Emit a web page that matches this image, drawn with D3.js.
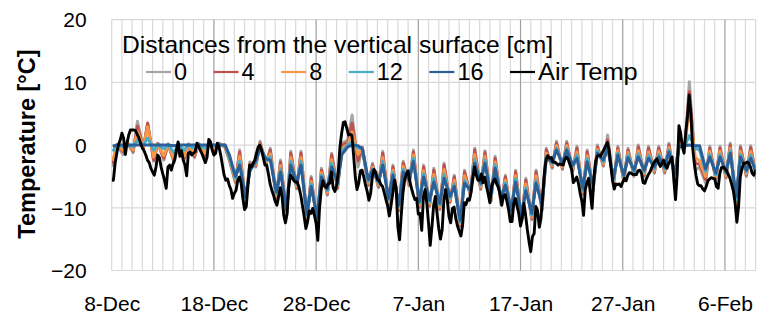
<!DOCTYPE html>
<html>
<head>
<meta charset="utf-8">
<script src="https://cdn.jsdelivr.net/npm/d3@7"></script>
<style>
  html, body { margin: 0; padding: 0; background: #fff; }
  svg { display: block; font-family: "Liberation Sans", Arial, sans-serif; }
</style>
</head>
<body>
<svg id="chart" width="759" height="324"></svg>
<script>
// ---- data -------------------------------------------------------------
// Period: 8 Dec - 9 Feb (63 days). Day index 0 = 8 Dec 00:00.
const dayCount = 63;
const xTickDays = [0, 10, 20, 30, 40, 50, 60];
const xTickLabels = ["8-Dec", "18-Dec", "28-Dec", "7-Jan", "17-Jan", "27-Jan", "6-Feb"];
const yTicks = [20, 10, 0, -10, -20];

const legendTitle = "Distances from the vertical surface [cm]";
const seriesNames = ["0", "4", "8", "12", "16", "Air Temp"];
const seriesColors = ["#a5a5a5", "#c0504d", "#f79646", "#4bacc6", "#2a5f98", "#000000"];

// Sensor readings: per day a night minimum (~02:00) then a daytime maximum (~12:30),
// followed by one closing minimum.
const depth0 = [
  -3.5,0, -1.5,0.5, -1.2,3.8, -0.5,3.4, -2.6,0.3, -2.4,0.2, -2.8,0.3, -2.4,0.2, -2.0,0.3, -1.8,0.2,
  -1.0,0.3, -0.4,-2.5, -6.0,-0.8, -9.3,-2.7, -3.5,0.6, -3.2,-0.5, -8.5,-2.4, -11.3,-1.0, -7.0,-1.0, -12.0,-5.0,
  -12.5,-3.7, -8.0,-1.3, -7.0,0.3, 0.8,4.8, -3.5,-0.3, -6.5,-2.9, -6.8,-1.0, -9.5,-3.2, -10.5,-2.6, -6.5,-0.8,
  -10.0,-3.2, -9.8,-3.7, -10.3,-2.9, -9.2,-4.8, -13.0,-4.0, -8.2,-0.5, -7.1,-0.9, -9.0,-1.8, -9.5,-4.8, -11.4,-4.0,
  -12.2,-5.3, -11.9,-4.0, -10.5,-0.5, -3.7,0.6, -3.9,0.6, -4.2,-0.2, -7.9,-0.8, -7.4,0.0, -3.4,1.6, -6.3,-0.2,
  -5.8,-0.5, -5.0,0.0, -5.0,-0.2, -4.5,-0.2, -4.5,0.3, -5.5,0.8, 0.0,10.1, -4.0,-3.5, -6.0,-0.2, -5.5,-0.2,
  -5.3,0.3, -10.5,-0.1, -5.0,-0.1, -5.5
];
const depth4 = [
  -3.0,0, -1.0,0.3, -1.0,3.0, -0.5,3.5, -2.4,0.2, -2.1,0, -2.5,0.2, -2.1,0, -1.8,0.1, -1.6,0,
  -0.8,0.2, -0.3,-2.3, -5.8,-1.1, -9.1,-3.0, -3.3,0.3, -3.0,-0.8, -8.3,-2.7, -11.1,-1.3, -6.8,-1.3, -11.8,-5.3,
  -12.3,-4.0, -7.8,-1.6, -6.8,0, 0.4,3.5, -2.5,-0.4, -6.3,-3.2, -6.6,-1.3, -9.3,-3.5, -10.3,-2.9, -6.3,-1.1,
  -9.8,-3.5, -9.6,-4.0, -10.1,-3.2, -9.0,-5.1, -12.8,-4.3, -8.0,-0.8, -6.9,-1.2, -8.8,-2.1, -9.3,-5.1, -11.2,-4.3,
  -12.0,-5.6, -11.7,-4.3, -10.3,-0.8, -3.5,0.3, -3.7,0.3, -4.0,-0.5, -7.7,-1.1, -7.2,-0.3, -3.2,0.8, -6.1,-0.5,
  -5.6,-0.8, -4.8,-0.3, -4.8,-0.5, -4.3,-0.5, -4.3,0, -5.3,0.5, 0,8.5, -3.0,-3.0, -5.5,-0.5, -5.3,-0.5,
  -5.1,0, -10.0,-0.4, -4.8,-0.4, -5.3
];
const depth8 = [
  -2.5,0, -0.8,0.2, -0.8,2.2, -0.3,2.9, -1.9,0, -1.7,0, -2.2,0, -1.8,0, -1.5,0, -1.3,0,
  -0.5,0, -0.2,-2.2, -5.6,-1.8, -8.9,-3.4, -3.1,0.1, -2.8,-1.4, -8.1,-3.3, -10.9,-2.0, -6.6,-2.0, -11.6,-5.8,
  -12.1,-4.4, -7.6,-2.3, -6.6,-0.5, 0.1,2.1, -1.5,-0.5, -6.1,-3.5, -6.4,-2.0, -9.1,-4.0, -10.1,-3.4, -6.1,-1.6,
  -9.6,-4.1, -9.4,-4.7, -9.9,-3.9, -8.8,-5.6, -12.6,-4.9, -7.8,-1.5, -6.7,-1.8, -8.6,-2.7, -9.1,-5.6, -11.0,-4.9,
  -11.8,-6.2, -11.5,-4.9, -10.1,-1.3, -3.3,-0.1, -3.5,-0.1, -3.8,-1.1, -7.5,-1.7, -7.0,-0.7, -3.0,0.3, -5.9,-0.9,
  -5.4,-1.2, -4.6,-0.9, -4.6,-1.1, -4.1,-1.0, -4.1,-0.4, -5.1,0.2, 0,6.1, -2.0,-2.5, -5.0,-1.0, -5.1,-1.0,
  -4.9,-0.5, -9.6,-1.0, -4.6,-1.0, -5.1
];
const depth12 = [
  -1.0,0, -0.3,0, -0.3,0.8, 0,1.1, -0.8,0, -0.6,0, -1.2,0, -0.8,0, -0.6,0, -0.5,0,
  -0.2,0, 0,-2.0, -5.3,-2.6, -8.6,-3.8, -2.8,-0.2, -2.5,-1.9, -7.8,-3.8, -10.6,-2.6, -6.3,-2.6, -11.3,-6.2,
  -11.8,-4.8, -7.3,-2.9, -6.3,-1.0, 0,0.5, -0.5,-0.5, -5.8,-3.8, -6.1,-2.6, -8.8,-4.4, -9.8,-3.9, -5.8,-2.1,
  -9.3,-4.6, -9.1,-5.3, -9.6,-4.7, -8.5,-6.2, -12.3,-5.6, -7.5,-2.3, -6.4,-2.4, -8.3,-3.2, -8.8,-6.0, -10.7,-5.4,
  -11.5,-6.8, -11.2,-5.6, -9.8,-1.7, -3.0,-0.5, -3.2,-0.5, -3.5,-1.6, -7.2,-2.2, -6.7,-1.0, -2.7,-0.1, -5.6,-1.3,
  -5.1,-1.6, -4.3,-1.4, -4.3,-1.6, -3.8,-1.5, -3.8,-0.8, -4.8,-0.1, 0,1.5, -0.5,-0.8, -4.2,-1.5, -4.8,-1.5,
  -4.6,-0.9, -8.8,-1.5, -4.3,-1.6, -4.8
];
const depth16 = [
  -0.2,0, 0,0, 0,0, 0,0, 0,0, 0,0, -0.1,0, 0,0, 0,0, 0,0,
  0,0, 0,-1.6, -5.0,-3.2, -8.3,-4.2, -2.5,-0.4, -2.2,-2.4, -7.5,-4.3, -10.3,-3.2, -6.0,-3.2, -11.0,-6.6,
  -11.5,-5.1, -7.0,-3.5, -6.0,-1.5, -0.3,0, -0.1,-0.6, -5.5,-4.0, -5.8,-3.2, -8.5,-4.8, -9.5,-4.3, -5.5,-2.6,
  -9.0,-5.1, -8.8,-5.9, -9.3,-5.3, -8.2,-6.6, -12.0,-6.1, -7.2,-2.9, -6.1,-2.9, -8.0,-3.7, -8.5,-6.4, -10.4,-5.9,
  -11.2,-7.3, -10.9,-6.1, -9.5,-2.1, -2.7,-0.8, -2.9,-0.8, -3.2,-2.1, -6.9,-2.7, -6.4,-1.3, -2.4,-0.5, -5.3,-1.6,
  -4.8,-2.0, -4.0,-1.9, -4.0,-2.1, -3.5,-1.9, -3.5,-1.1, -4.5,-0.3, -0.1,0, -0.1,-0.1, -3.8,-1.9, -4.5,-1.9,
  -4.3,-1.3, -8.2,-1.9, -4.0,-2.1, -4.5
];

// Air temperature every 4 hours (6 readings per day)
const airTemp = [
  -5.6,-5.6,-2.9,-1.3,0.1,0.8,  1.9,1.1,-1.5,0.3,1.6,2.4,  2.4,2.4,2.3,1.7,1.1,0.3,
  -0.5,-0.9,-1.6,-2.4,-2.8,-3.7,  -4.3,-4.8,-3.5,-1.6,-2.0,-3.5,  -4.6,-5.6,-6.9,-3.5,-3.2,-4.0,
  -3.0,-2.3,-0.8,0.5,-1.8,-0.9,  -2.4,-3.2,-4.9,-1.3,-1.1,-1.6,  -1.3,-1.1,0.3,-0.2,-0.8,-1.4,
  -2.1,-2.8,-1.9,0.9,0.5,-0.8,
  -1.6,-1.3,0.3,-0.3,-1.6,-3.2,  -4.8,-5.6,-5.4,-6.4,-7.1,-8.5,  -7.7,-7.2,-5.6,-5.1,-6.1,-8.5,
  -10.3,-9.8,-6.4,-3.2,-3.5,-2.9,  -2.4,-1.3,-0.3,0,-0.9,-2.0,  -3.2,-3.2,-4.6,-6.2,-7.2,-8.0,
  -9.0,-9.6,-8.2,-6.8,-8.2,-11.2,  -12.4,-10.9,-6.4,-4.8,-5.2,-5.7,  -5.9,-5.9,-6.8,-8.0,-9.7,-11.4,
  -13.3,-12.2,-10.5,-10.9,-10.1,-11.2,
  -12.5,-15.2,-10.1,-7.1,-5.7,-6.6,  -6.8,-6.2,-6.1,-4.3,-6.8,-7.4,  -6.5,-4.3,-0.3,1.9,3.6,3.7,
  2.7,1.6,1.7,1.6,-1.6,-5.1,  -7.1,-6.1,-4.1,-4.0,-5.1,-6.4,  -7.4,-8.8,-7.7,-5.1,-3.9,-4.3,
  -5.5,-5.6,-6.3,-6.6,-7.6,-8.7,  -9.7,-11.3,-9.6,-7.7,-5.6,-6.8,  -13.1,-15.1,-11.1,-7.6,-5.5,-4.6,
  -4.1,-5.8,-6.9,-7.9,-8.7,-8.5,
  -11.0,-10.9,-13.6,-8.2,-7.1,-9.3,  -12.5,-16.0,-13.0,-9.6,-8.2,-10.9,  -13.3,-15.0,-13.5,-8.8,-7.1,-8.8,
  -11.4,-12.4,-10.1,-9.9,-11.7,-12.9,  -13.7,-14.5,-12.8,-9.2,-9.5,-8.6,  -8.8,-7.4,-5.4,-3.5,-4.8,-5.6,
  -5.6,-4.6,-6.0,-5.1,-6.6,-7.8,  -9.2,-6.6,-5.8,-5.4,-6.2,-6.8,  -7.9,-9.6,-8.1,-7.9,-9.0,-10.3,
  -12.2,-12.2,-9.4,-8.5,-9.8,-11.0,
  -12.9,-11.7,-9.3,-11.2,-13.5,-15.4,  -17.0,-14.6,-14.1,-9.8,-10.4,-13.1,  -11.7,-8.2,-4.4,-2.3,-1.7,-2.1,
  -2.0,-2.7,-2.7,-2.9,-3.2,-3.0,  -3.1,-3.2,-2.3,-1.9,-2.3,-3.1,  -3.9,-6.0,-5.6,-5.1,-6.1,-7.7,
  -8.9,-11.2,-7.1,-6.0,-5.3,-7.6,  -10.1,-5.6,-2.7,-1.8,-1.6,-1.8,  -1.2,-0.7,-0.1,0.4,-0.8,-3.3,
  -5.6,-7.0,-6.2,-6.3,-6.2,-6.6,
  -5.9,-5.3,-5.7,-4.8,-4.4,-4.5,  -4.7,-4.7,-4.7,-4.1,-4.0,-4.5,  -6.0,-6.1,-5.3,-4.7,-4.3,-3.6,
  -3.0,-2.5,-2.2,-2.8,-3.4,-3.0,  -2.4,-3.2,-3.7,-2.9,-2.4,-1.9,  -5.6,-8.7,-4.5,3.1,1.9,-0.2,
  -1.3,2.0,4.5,8.0,5.1,-0.3,  -2.9,-4.8,-6.2,-6.5,-6.5,-7.0,  -7.3,-6.6,-5.7,-5.4,-5.2,-5.3,
  -5.4,-6.6,-6.9,-4.5,-3.6,-3.5,  -3.8,-4.1,-4.7,-5.3,-6.3,-7.4,  -9.3,-12.3,-9.8,-5.1,-3.7,-2.9,
  -2.9,-2.7,-2.9,-3.5,-4.5,-4.8,
  -4.0
];

// ---- layout -----------------------------------------------------------
const svg = d3.select("#chart");
const plot = { left: 111.7, right: 755.6, top: 19.6, bottom: 270.5 };
const font = "'Liberation Sans', Arial, sans-serif";

const x = d3.scaleLinear().domain([0, dayCount]).range([plot.left, plot.right]);
const y = d3.scaleLinear().domain([-20, 20]).range([plot.bottom, plot.top]);

// sampling times (in days) of each record
const sensorDay = i => Math.floor(i / 2) + (i % 2 === 0 ? 0.1 : 0.52);
const airDay = i => i / 6;

svg.append("defs").append("clipPath").attr("id", "plotClip")
  .append("rect")
  .attr("x", plot.left).attr("y", plot.top - 5)
  .attr("width", plot.right - plot.left).attr("height", plot.bottom - plot.top + 10);

// ---- grid -------------------------------------------------------------
const grid = svg.append("g");
grid.selectAll("line.h").data(yTicks).join("line")
  .attr("x1", plot.left).attr("x2", plot.right)
  .attr("y1", d => y(d)).attr("y2", d => y(d))
  .attr("stroke", "#d9d9d9").attr("stroke-width", 1.2);

const days = d3.range(0, dayCount + 1);
grid.selectAll("line.v").data(days.filter(d => !xTickDays.includes(d) || d === 0)).join("line")
  .attr("x1", d => x(d)).attr("x2", d => x(d))
  .attr("y1", plot.top).attr("y2", plot.bottom)
  .attr("stroke", "#d9d9d9").attr("stroke-width", 1.2);
grid.selectAll("line.major").data(xTickDays.filter(d => d > 0)).join("line")
  .attr("x1", d => x(d)).attr("x2", d => x(d))
  .attr("y1", plot.top).attr("y2", plot.bottom)
  .attr("stroke", "#a0a0a0").attr("stroke-width", 1.2);

// ---- axes labels -----------------------------------------------------
const yAxis = d3.axisLeft(y).tickValues(yTicks).tickSize(0).tickPadding(0);
const yg = svg.append("g").attr("transform", `translate(${plot.left - 25},0)`).call(yAxis);
yg.select(".domain").remove();
yg.selectAll("text").attr("font-size", 21).attr("fill", "#000")
  .attr("font-family", font).attr("dy", "0.35em");

const xAxis = d3.axisBottom(x).tickValues(xTickDays).tickSize(0).tickPadding(0)
  .tickFormat((d, i) => xTickLabels[i]);
const xg = svg.append("g").attr("transform", `translate(0,${plot.bottom + 26})`).call(xAxis);
xg.select(".domain").remove();
xg.selectAll("text").attr("font-size", 21).attr("fill", "#000")
  .attr("font-family", font).attr("dy", "0.7em");

svg.append("text")
  .attr("transform", `translate(35,${(plot.top + plot.bottom) / 2 - 1}) rotate(-90)`)
  .attr("text-anchor", "middle")
  .attr("font-size", 23.5).attr("font-weight", "bold").attr("fill", "#000")
  .text("Temperature [°C]");

// ---- series -----------------------------------------------------------
const sensorSeries = [depth0, depth4, depth8, depth12, depth16];
const lines = svg.append("g").attr("clip-path", "url(#plotClip)");

sensorSeries.forEach((vals, k) => {
  const line = d3.line().x((d, i) => x(sensorDay(i))).y(d => y(d));
  lines.append("path").datum(vals)
    .attr("d", line)
    .attr("fill", "none")
    .attr("stroke", seriesColors[k])
    .attr("stroke-width", 3)
    .attr("stroke-linejoin", "round");
});

const airLine = d3.line().x((d, i) => x(airDay(i))).y(d => y(d));
lines.append("path").datum(airTemp)
  .attr("d", airLine)
  .attr("fill", "none")
  .attr("stroke", seriesColors[5])
  .attr("stroke-width", 2.9)
  .attr("stroke-linejoin", "round");

// ---- legend -----------------------------------------------------------
const legend = svg.append("g");
legend.append("text")
  .attr("x", 122).attr("y", 53)
  .attr("font-size", 24).attr("fill", "#000")
  .attr("textLength", 431).attr("lengthAdjust", "spacingAndGlyphs")
  .text(legendTitle);

let lx = 146;
const rowY = 72;
seriesNames.forEach((name, k) => {
  legend.append("line")
    .attr("x1", lx).attr("x2", lx + 25)
    .attr("y1", rowY).attr("y2", rowY)
    .attr("stroke", seriesColors[k]).attr("stroke-width", 2.2);
  const t = legend.append("text")
    .attr("x", lx + 28).attr("y", rowY + 8)
    .attr("font-size", 23.5).attr("fill", "#000")
    .text(name);
  const w = t.node().getComputedTextLength();
  if (name.length > 2) t.attr("textLength", w * 1.08).attr("lengthAdjust", "spacingAndGlyphs");
  lx += 28 + w + 26.5;
});
</script>
</body>
</html>
